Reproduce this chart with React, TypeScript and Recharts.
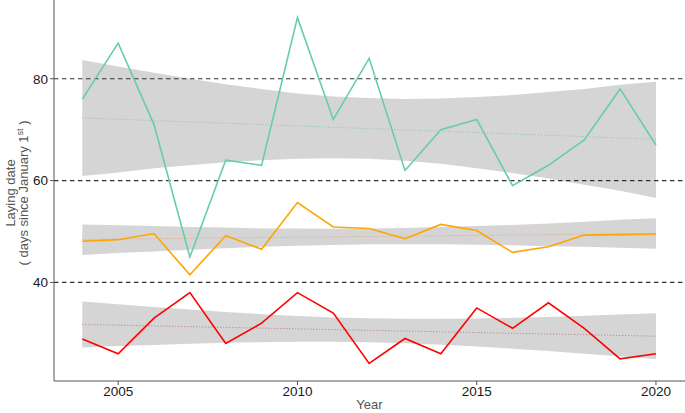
import React from 'react';
import { ComposedChart, Area, Line, XAxis, YAxis, ReferenceLine } from 'recharts';

const years = [2004, 2005, 2006, 2007, 2008, 2009, 2010, 2011, 2012, 2013, 2014, 2015, 2016, 2017, 2018, 2019, 2020];

// observed laying dates
const greenValues = [76, 87, 71, 45, 64, 63, 92, 72, 84, 62, 70, 72, 59, 63, 68, 78, 67];
const orangeValues = [48.1, 48.4, 49.6, 41.5, 49.2, 46.5, 55.7, 50.9, 50.6, 48.6, 51.4, 50.2, 45.9, 47.0, 49.3, 49.4, 49.5];
const redValues = [28.9, 26, 33, 38, 28, 32, 38, 34, 24.1, 29, 26, 35, 31, 36, 31, 25, 26];

// fitted trends
const greenFit = [72.3, 72.04, 71.78, 71.51, 71.25, 70.99, 70.73, 70.46, 70.2, 69.94, 69.68, 69.41, 69.15, 68.89, 68.63, 68.36, 68.1];
const orangeFit = [48.45, 48.52, 48.59, 48.67, 48.74, 48.81, 48.88, 48.95, 49.03, 49.1, 49.17, 49.24, 49.31, 49.38, 49.46, 49.53, 49.6];
const redFit = [31.75, 31.61, 31.46, 31.32, 31.17, 31.03, 30.89, 30.74, 30.6, 30.46, 30.31, 30.17, 30.02, 29.88, 29.74, 29.59, 29.45];

// confidence bands
const greenLow = [60.9, 61.6, 62.4, 63.0, 63.6, 64.0, 64.3, 64.4, 64.3, 63.9, 63.3, 62.4, 61.5, 60.4, 59.2, 58.0, 56.6];
const greenHigh = [83.7, 82.4, 81.2, 80.0, 78.9, 78.0, 77.1, 76.5, 76.2, 76.0, 76.1, 76.4, 76.8, 77.4, 78.0, 78.8, 79.4];
const orangeLow = [45.4, 45.8, 46.1, 46.4, 46.7, 47.0, 47.2, 47.35, 47.5, 47.5, 47.5, 47.4, 47.3, 47.1, 47.0, 46.8, 46.6];
const orangeHigh = [51.4, 51.25, 51.1, 50.9, 50.8, 50.6, 50.6, 50.55, 50.6, 50.7, 50.9, 51.1, 51.3, 51.6, 51.9, 52.3, 52.6];
const redLow = [27.25, 27.5, 27.74, 27.96, 28.14, 28.28, 28.35, 28.34, 28.25, 28.06, 27.77, 27.42, 26.99, 26.52, 26.02, 25.49, 24.95];
const redHigh = [36.25, 35.7, 35.18, 34.68, 34.2, 33.78, 33.43, 33.14, 32.95, 32.86, 32.85, 32.92, 33.05, 33.24, 33.46, 33.69, 33.95];

const xTicks = [2005, 2010, 2015, 2020];
const yTicks = [40, 60, 80];

const data = years.map((year, i) => ({
  year,
  green: greenValues[i],
  orange: orangeValues[i],
  red: redValues[i],
  greenFit: greenFit[i],
  orangeFit: orangeFit[i],
  redFit: redFit[i],
  greenBand: [greenLow[i], greenHigh[i]],
  orangeBand: [orangeLow[i], orangeHigh[i]],
  redBand: [redLow[i], redHigh[i]],
}));

const FONT = '"Liberation Sans", Arial, sans-serif';

const YLabel = () => (
  <g fontFamily={FONT} fontSize={13} fill="#555">
    <text x={15} y={193} transform="rotate(-90, 15, 193)" textAnchor="middle">Laying date</text>
    <text x={28} y={193} transform="rotate(-90, 28, 193)" textAnchor="middle">
      ( days since January 1<tspan dy={-5} fontSize={9}>st</tspan><tspan dy={5}> )</tspan>
    </text>
  </g>
);

export default function App() {
  return (
    <div style={{ position: 'absolute', left: 0, top: 0, background: '#fff' }}>
      <ComposedChart width={685} height={413} data={data} margin={{ top: 0, right: 0, bottom: 0, left: 0 }}>
        <XAxis
          dataKey="year"
          type="number"
          domain={[2003.21, 2020.81]}
          ticks={xTicks}
          allowDataOverflow
          height={32}
          tickSize={4}
          tickMargin={1}
          stroke="#555"
          tick={{ fill: '#1a1a1a', fontSize: 13.5, fontFamily: FONT }}
          label={{ value: 'Year', position: 'insideBottom', offset: 4, fill: '#555', fontSize: 13, fontFamily: FONT }}
        />
        <YAxis
          type="number"
          domain={[20.65, 95.46]}
          ticks={yTicks}
          allowDataOverflow
          width={54}
          tickSize={4}
          tickMargin={2}
          stroke="#555"
          tick={{ fill: '#1a1a1a', fontSize: 13.5, fontFamily: FONT }}
          label={{ content: () => <YLabel /> }}
        />
        <Area dataKey="greenBand" type="linear" stroke="none" fill="#d5d5d5" fillOpacity={1} isAnimationActive={false} />
        <Area dataKey="orangeBand" type="linear" stroke="none" fill="#d5d5d5" fillOpacity={1} isAnimationActive={false} />
        <Area dataKey="redBand" type="linear" stroke="none" fill="#d5d5d5" fillOpacity={1} isAnimationActive={false} />
        {yTicks.map((t) => (
          <ReferenceLine key={t} y={t} stroke="#333" strokeWidth={1.2} strokeDasharray="4.5 3.5" />
        ))}
        <Line dataKey="greenFit" type="linear" stroke="#8cc4b2" strokeWidth={1} strokeDasharray="1 2" dot={false} isAnimationActive={false} />
        <Line dataKey="orangeFit" type="linear" stroke="#e3a37a" strokeWidth={1} strokeDasharray="1 2" dot={false} isAnimationActive={false} />
        <Line dataKey="redFit" type="linear" stroke="#b87a7a" strokeWidth={1} strokeDasharray="1 2" dot={false} isAnimationActive={false} />
        <Line dataKey="green" type="linear" stroke="#66cdaa" strokeWidth={1.6} dot={false} isAnimationActive={false} />
        <Line dataKey="orange" type="linear" stroke="#ffa500" strokeWidth={1.6} dot={false} isAnimationActive={false} />
        <Line dataKey="red" type="linear" stroke="#ff0000" strokeWidth={1.6} dot={false} isAnimationActive={false} />
      </ComposedChart>
    </div>
  );
}
